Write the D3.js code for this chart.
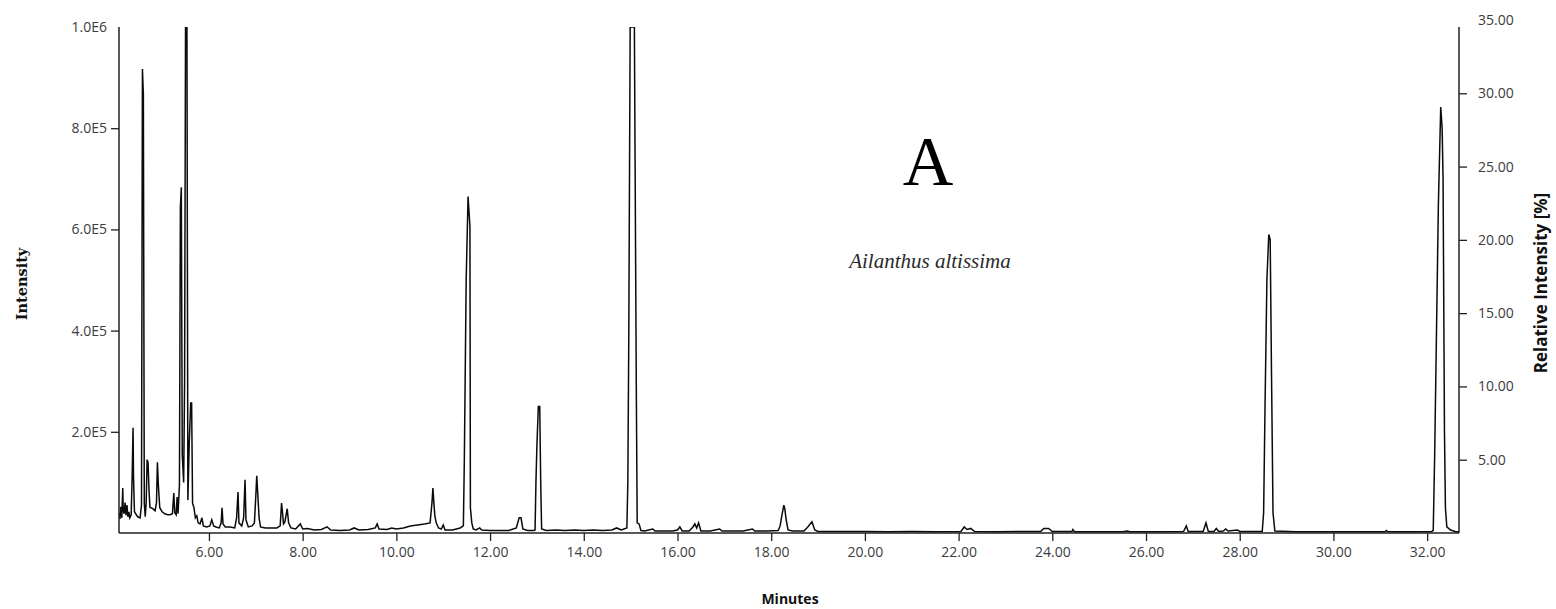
<!DOCTYPE html>
<html>
<head>
<meta charset="utf-8">
<script src="https://cdn.jsdelivr.net/npm/d3@7/dist/d3.min.js"></script>
<style>
  html, body { margin: 0; padding: 0; background: #fff; }
  svg { display: block; }
</style>
</head>
<body>
<svg id="chart" width="1556" height="609"></svg>
<script>
// Total ion chromatogram — Ailanthus altissima
// Trace points: [retention time (min), intensity (counts)]
const earlyTrace = [
  [4.08, 40000], [4.10, 28000], [4.12, 52000], [4.14, 30000], [4.16, 89000],
  [4.17, 45000], [4.19, 38000], [4.21, 60000], [4.23, 35000], [4.25, 55000],
  [4.27, 32000], [4.29, 42000], [4.31, 30000], [4.34, 36000], [4.36, 109000],
  [4.38, 208000], [4.39, 109000], [4.41, 42000], [4.45, 36000], [4.48, 32000],
  [4.53, 30000], [4.56, 55000], [4.58, 917000], [4.60, 867000], [4.62, 59000],
  [4.64, 32000], [4.66, 60000], [4.68, 145000], [4.70, 139000], [4.72, 85000],
  [4.74, 51000], [4.80, 48000], [4.85, 44000], [4.88, 60000], [4.90, 140000],
  [4.92, 95000], [4.95, 50000], [5.00, 42000], [5.06, 38000], [5.12, 36000],
  [5.17, 36000], [5.22, 38000], [5.25, 79000], [5.27, 40000], [5.30, 36000],
  [5.32, 71000], [5.34, 38000], [5.37, 95000], [5.39, 643000], [5.41, 683000],
  [5.43, 154000], [5.46, 100000], [5.48, 300000], [5.50, 1000000], [5.53, 1000000],
  [5.55, 65000], [5.58, 180000], [5.61, 257000], [5.63, 257000], [5.65, 59000],
  [5.68, 50000], [5.71, 30000], [5.74, 34000], [5.77, 20000], [5.81, 18000],
  [5.85, 30000], [5.88, 14000], [5.95, 12000], [6.02, 14000], [6.06, 26000],
  [6.10, 14000], [6.15, 12000], [6.22, 10000], [6.26, 20000], [6.28, 50000],
  [6.30, 18000], [6.35, 12000], [6.45, 12000], [6.55, 10000], [6.59, 30000],
  [6.62, 81000], [6.64, 20000], [6.70, 14000], [6.74, 30000], [6.77, 105000],
  [6.79, 26000], [6.84, 12000], [6.92, 14000], [6.97, 20000], [7.00, 73000],
  [7.02, 113000], [7.04, 80000], [7.07, 30000], [7.10, 12000], [7.20, 10000],
  [7.30, 10000], [7.45, 10000], [7.52, 14000], [7.55, 59000], [7.57, 40000],
  [7.59, 18000], [7.62, 22000], [7.67, 48000], [7.70, 20000], [7.75, 10000],
  [7.85, 8000], [7.95, 18000]
];

const midTrace = [
  [8.00, 8000], [8.10, 9000], [8.25, 6000], [8.40, 7000], [8.52, 12000],
  [8.60, 6000], [8.80, 5000], [9.00, 6000], [9.10, 10000], [9.20, 6000],
  [9.40, 7000], [9.55, 10000], [9.59, 18000], [9.63, 8000], [9.80, 7000],
  [9.90, 10000], [10.00, 8000], [10.15, 10000], [10.30, 14000], [10.45, 16000],
  [10.60, 18000], [10.72, 20000], [10.76, 60000], [10.78, 89000], [10.80, 60000],
  [10.82, 35000], [10.85, 20000], [10.90, 10000], [10.96, 8000], [11.00, 16000],
  [11.04, 6000], [11.20, 6000], [11.36, 10000], [11.43, 14000], [11.45, 140000],
  [11.49, 500000], [11.53, 665000], [11.57, 606000], [11.58, 50000], [11.61, 20000],
  [11.64, 8000], [11.70, 6000], [11.78, 10000], [11.82, 6000], [12.00, 5000],
  [12.20, 5000], [12.40, 5000], [12.56, 10000], [12.62, 30000], [12.66, 30000],
  [12.70, 8000], [12.80, 5000], [12.93, 5000], [12.96, 6000], [12.98, 105000],
  [13.00, 174000], [13.03, 250000], [13.06, 250000], [13.08, 105000], [13.10, 8000],
  [13.20, 5000], [13.40, 6000], [13.60, 5000], [13.80, 6000], [14.00, 5000],
  [14.20, 6000], [14.40, 5000], [14.60, 6000], [14.70, 10000], [14.80, 6000],
  [14.92, 10000], [14.94, 99000], [14.96, 380000], [14.99, 1000000], [15.08, 1000000],
  [15.12, 300000], [15.14, 20000], [15.18, 18000], [15.22, 5000], [15.30, 4000],
  [15.47, 8000], [15.52, 4000], [15.70, 4000], [15.90, 4000], [16.00, 6000],
  [16.05, 12000], [16.10, 4000], [16.25, 4000], [16.33, 12000], [16.37, 18000],
  [16.41, 10000], [16.45, 20000], [16.50, 4000], [16.70, 4000], [16.90, 8000],
  [16.95, 4000], [17.20, 4000], [17.40, 4000], [17.60, 8000], [17.65, 4000],
  [17.90, 4000], [18.15, 5000], [18.19, 14000], [18.23, 36000], [18.27, 55000],
  [18.29, 48000], [18.32, 26000], [18.36, 6000], [18.45, 4000], [18.70, 4000],
  [18.78, 12000], [18.87, 22000], [18.93, 6000]
];

const lateTrace = [
  [19.00, 3000], [19.50, 3000], [20.00, 3000], [20.50, 2500], [21.00, 3000],
  [21.50, 2500], [22.05, 3000], [22.12, 12000], [22.18, 7000], [22.26, 9000],
  [22.34, 3000], [22.80, 2500], [23.40, 3000], [23.75, 3000], [23.82, 9000],
  [23.92, 9000], [24.00, 3000], [24.42, 3000], [24.44, 7000], [24.47, 2500],
  [25.00, 2500], [25.50, 2500], [25.60, 4000], [25.65, 2500], [26.20, 2500],
  [26.80, 3000], [26.86, 14000], [26.90, 3000], [27.22, 3000], [27.28, 20000],
  [27.33, 3000], [27.45, 3000], [27.50, 9000], [27.55, 3000], [27.65, 4000],
  [27.70, 8000], [27.75, 4000], [27.95, 6000], [28.00, 3000], [28.48, 3000],
  [28.51, 40000], [28.54, 250000], [28.58, 500000], [28.62, 590000], [28.65, 580000],
  [28.68, 300000], [28.71, 40000], [28.75, 4000], [29.20, 2500], [29.80, 2500],
  [30.50, 2500], [31.10, 2500], [31.13, 5000], [31.16, 2500], [31.80, 2500],
  [32.10, 3000], [32.13, 5000], [32.16, 150000], [32.20, 400000], [32.24, 650000],
  [32.29, 842000], [32.32, 800000], [32.34, 700000], [32.37, 200000], [32.39, 50000],
  [32.42, 12000], [32.50, 6000], [32.60, 3000], [32.68, 2000]
];

const timeDomain = [4.08, 32.68];
const timeTicks = [6, 8, 10, 12, 14, 16, 18, 20, 22, 24, 26, 28, 30, 32];
const intensityTicks = [200000, 400000, 600000, 800000, 1000000];
const intensityTickLabels = ["2.0E5", "4.0E5", "6.0E5", "8.0E5", "1.0E6"];
const relativeTicks = [5, 10, 15, 20, 25, 30, 35];

const trace = earlyTrace.concat(midTrace, lateTrace);

const svg = d3.select("#chart");
const plotL = 119, plotR = 1459, plotT = 27, plotB = 533;

const x = d3.scaleLinear().domain(timeDomain).range([plotL, plotR]);
const y = d3.scaleLinear().domain([0, 1000000]).range([plotB, plotT]);
const yRel = d3.scaleLinear().domain([0, 35]).range([plotB, 20]);

const tickFont = "'Open Sans', sans-serif";

// Clip the trace to the plotting window (tallest peaks run off the top)
svg.append("defs").append("clipPath").attr("id", "plot-clip")
  .append("rect")
  .attr("x", plotL).attr("y", plotT)
  .attr("width", plotR - plotL).attr("height", plotB - plotT + 1);

// Chromatogram trace
svg.append("path")
  .datum(trace)
  .attr("clip-path", "url(#plot-clip)")
  .attr("fill", "none")
  .attr("stroke", "#0a0a0a")
  .attr("stroke-width", 1.5)
  .attr("stroke-linejoin", "miter")
  .attr("d", d3.line().x(d => x(d[0])).y(d => y(d[1])));

// Left axis: absolute intensity
const gLeft = svg.append("g")
  .attr("transform", `translate(${plotL},0)`)
  .call(d3.axisLeft(y).tickValues(intensityTicks)
    .tickFormat((d, i) => intensityTickLabels[i])
    .tickSize(8).tickPadding(4));
gLeft.select(".domain").remove();
gLeft.selectAll(".tick").filter(d => d === 1000000).select("line").remove();

// Right axis: relative intensity
const gRight = svg.append("g")
  .attr("transform", `translate(${plotR},0)`)
  .call(d3.axisRight(yRel).tickValues(relativeTicks)
    .tickFormat(d => d.toFixed(2))
    .tickSize(8).tickPadding(11));
gRight.select(".domain").remove();
gRight.selectAll(".tick").filter(d => d === 35).select("line").remove();

// Bottom axis: retention time
const gBottom = svg.append("g")
  .attr("transform", `translate(0,${plotB})`)
  .call(d3.axisBottom(x).tickValues(timeTicks)
    .tickFormat(d => d.toFixed(2))
    .tickSize(8).tickPadding(6));
gBottom.select(".domain").remove();

[gLeft, gRight, gBottom].forEach(g => {
  g.selectAll(".tick line").attr("stroke", "#222").attr("stroke-width", 1.3);
  g.selectAll(".tick text")
    .attr("fill", "#3c3c3c")
    .style("font-family", tickFont)
    .style("font-size", "14px");
});

// Frame lines (left, bottom, right)
const frame = svg.append("g").attr("stroke", "#222").attr("stroke-width", 1.5).attr("fill", "none");
frame.append("line").attr("x1", plotL).attr("x2", plotL).attr("y1", plotT).attr("y2", plotB);
frame.append("line").attr("x1", plotL).attr("x2", plotR).attr("y1", plotB).attr("y2", plotB);
frame.append("line").attr("x1", plotR).attr("x2", plotR).attr("y1", plotT).attr("y2", plotB);

// Axis titles
svg.append("text")
  .attr("transform", `translate(27,${(plotT + plotB) / 2 + 4}) rotate(-90)`)
  .attr("text-anchor", "middle")
  .style("font-family", "'DejaVu Serif', serif")
  .style("font-weight", "bold")
  .style("font-size", "14.5px")
  .attr("fill", "#111")
  .text("Intensity");

svg.append("text")
  .attr("x", 790).attr("y", 604)
  .attr("text-anchor", "middle")
  .style("font-family", tickFont)
  .style("font-weight", "bold")
  .style("font-size", "14px")
  .attr("fill", "#111")
  .text("Minutes");

svg.append("text")
  .attr("transform", `translate(1547,${(plotT + plotB) / 2 + 3}) rotate(-90)`)
  .attr("text-anchor", "middle")
  .style("font-family", tickFont)
  .style("font-weight", "bold")
  .style("font-size", "17px")
  .attr("fill", "#111")
  .text("Relative Intensity [%]");

// Panel letter and sample name
svg.append("text")
  .attr("x", 928).attr("y", 185)
  .attr("text-anchor", "middle")
  .style("font-family", "'Liberation Serif', serif")
  .style("font-size", "70px")
  .attr("fill", "#000")
  .text("A");

svg.append("text")
  .attr("x", 930).attr("y", 268)
  .attr("text-anchor", "middle")
  .style("font-family", "'Liberation Serif', serif")
  .style("font-style", "italic")
  .style("font-size", "21px")
  .attr("fill", "#2a2a2a")
  .text("Ailanthus altissima");
</script>
</body>
</html>
